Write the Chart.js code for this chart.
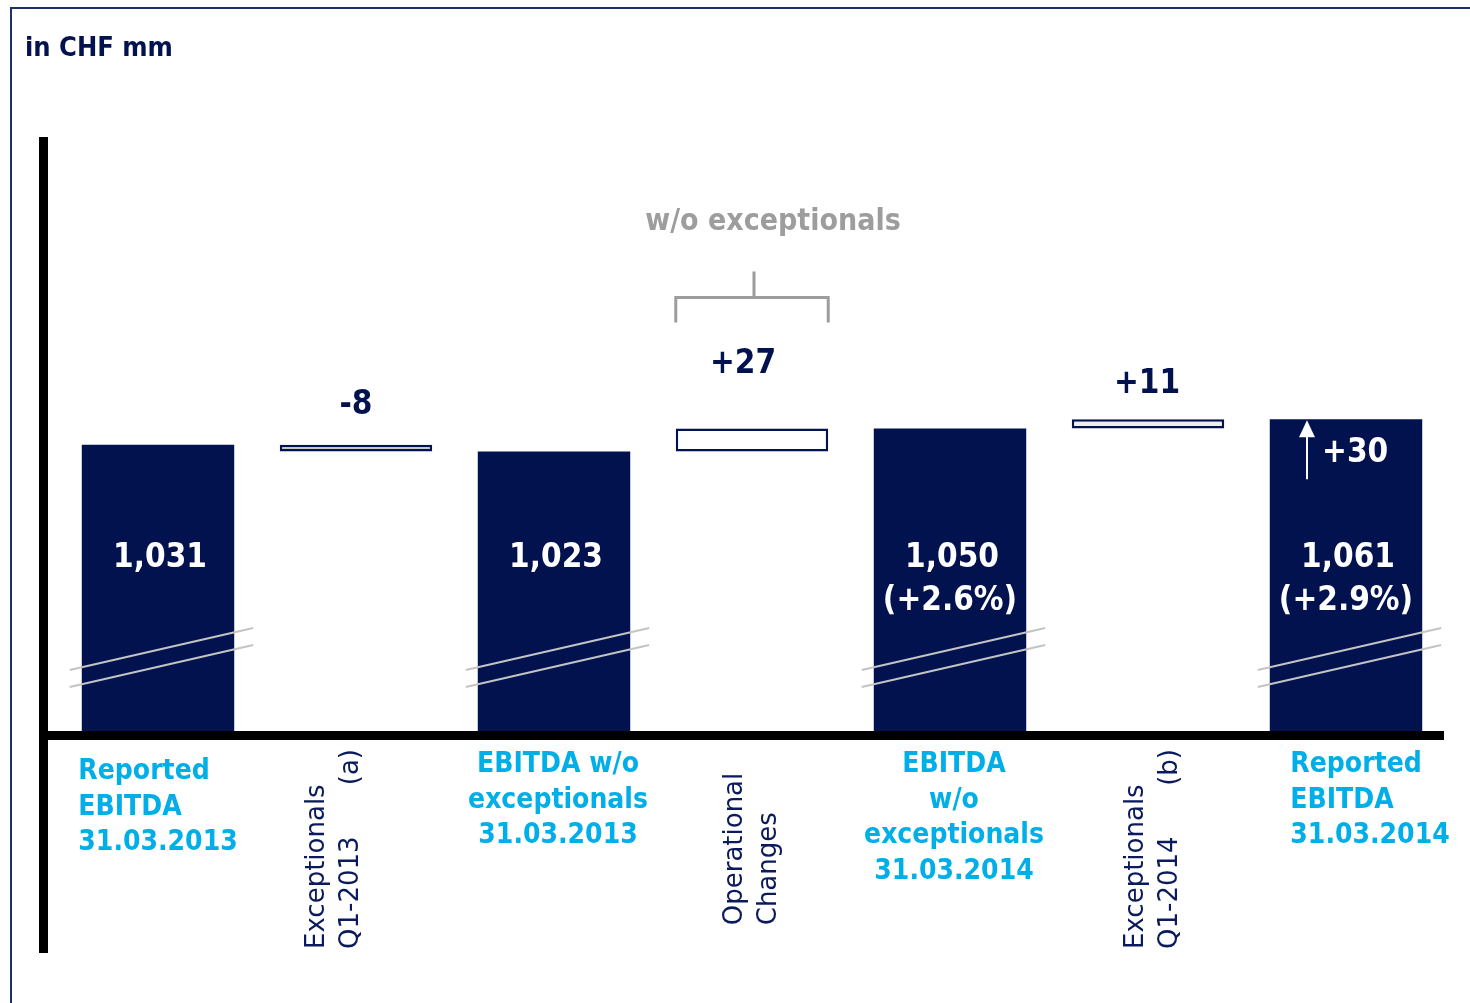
<!DOCTYPE html>
<html>
<head>
<meta charset="utf-8">
<script src="https://cdn.jsdelivr.net/npm/chart.js@4"></script>
<style>
  html, body { margin: 0; padding: 0; background: #fff; }
  #wrap { position: relative; width: 1470px; height: 1003px; }
</style>
</head>
<body>
<div id="wrap"><canvas id="bridge"></canvas></div>
<script>
// EBITDA bridge, in CHF mm
const categories = [
  ['Reported', 'EBITDA', '31.03.2013'],
  ['Exceptionals', 'Q1-2013\t(a)'],
  ['EBITDA w/o', 'exceptionals', '31.03.2013'],
  ['Operational', 'Changes'],
  ['EBITDA', 'w/o', 'exceptionals', '31.03.2014'],
  ['Exceptionals', 'Q1-2014\t(b)'],
  ['Reported', 'EBITDA', '31.03.2014']
];
const isTotal = [true, false, true, false, true, false, true];
const totals = [1031, null, 1023, null, 1050, null, 1061];
const deltas = [null, -8, null, 27, null, 11, null];
const growthLabels = [null, null, null, null, '(+2.6%)', null, '(+2.9%)'];
const reportedGrowth = 30;

const NAVY = '#02124f';
const CYAN = '#00aee8';
const GREY = '#9d9d9d';
const BOLD = '"DejaVu Sans Condensed", "Open Sans", sans-serif';
const REG = '"DejaVu Sans", sans-serif';

// totals start from the axis floor, deltas float between running totals
let running = 0;
const barData = categories.map((c, i) => {
  if (isTotal[i]) { running = totals[i]; return totals[i]; }
  const from = running;
  running += deltas[i];
  return [from, running];
});

const fmt = v => v.toLocaleString('en-US');
const signed = v => (v > 0 ? '+' : '') + v;

const bridgeDecor = {
  id: 'bridgeDecor',
  afterDatasetsDraw(chart) {
    const ctx = chart.ctx;
    const area = chart.chartArea;
    const xs = chart.scales.x;
    const bars = chart.getDatasetMeta(0).data;
    ctx.save();

    // frame
    ctx.fillStyle = '#1f2f6e';
    ctx.fillRect(10, 7, 1460, 2);
    ctx.fillRect(10, 7, 2, 996);

    // title
    ctx.fillStyle = NAVY;
    ctx.font = 'bold 27px ' + BOLD;
    ctx.textBaseline = 'middle';
    ctx.textAlign = 'left';
    ctx.fillText('in CHF mm', 25, 49);

    bars.forEach((bar, i) => {
      const half = bar.width / 2;
      if (isTotal[i]) {
        // break marks across the bar
        ctx.strokeStyle = '#c4c4c4';
        ctx.lineWidth = 2;
        [0, 17].forEach(off => {
          ctx.beginPath();
          ctx.moveTo(bar.x - half - 12, area.bottom - 62 + off);
          ctx.lineTo(bar.x + half + 19, area.bottom - 104 + off);
          ctx.stroke();
        });
        ctx.fillStyle = '#fff';
        ctx.font = 'bold 33px ' + BOLD;
        ctx.textAlign = 'center';
        ctx.fillText(fmt(totals[i]), bar.x + 2, area.bottom - 174);
        if (growthLabels[i]) ctx.fillText(growthLabels[i], bar.x, area.bottom - 131);
      } else {
        const gap = { 1: 39, 3: 64, 5: 35 }[i];
        const shift = { 1: 0, 3: -9, 5: -1 }[i];
        ctx.fillStyle = NAVY;
        ctx.font = 'bold 33px ' + BOLD;
        ctx.textAlign = 'center';
        ctx.fillText(signed(deltas[i]), bar.x + shift, Math.min(bar.y, bar.base) - gap);
      }
    });

    // bracket over operational changes
    const op = bars[3];
    const top = Math.min(op.y, op.base);
    ctx.strokeStyle = GREY;
    ctx.lineWidth = 3;
    ctx.beginPath();
    ctx.moveTo(op.x - op.width / 2, top - 106);
    ctx.lineTo(op.x - op.width / 2, top - 131);
    ctx.lineTo(op.x + op.width / 2, top - 131);
    ctx.lineTo(op.x + op.width / 2, top - 106);
    ctx.moveTo(op.x + 2, top - 131);
    ctx.lineTo(op.x + 2, top - 157);
    ctx.stroke();
    ctx.fillStyle = GREY;
    ctx.font = 'bold 30px ' + BOLD;
    ctx.textAlign = 'center';
    ctx.fillText('w/o exceptionals', op.x + 21, top - 206);

    // growth arrow inside the last bar
    const last = bars[6];
    const ax = last.x - 39;
    ctx.strokeStyle = '#fff';
    ctx.fillStyle = '#fff';
    ctx.lineWidth = 2;
    ctx.beginPath();
    ctx.moveTo(ax, last.y + 60);
    ctx.lineTo(ax, last.y + 16);
    ctx.stroke();
    ctx.beginPath();
    ctx.moveTo(ax, last.y + 1);
    ctx.lineTo(ax - 8, last.y + 18);
    ctx.lineTo(ax + 8, last.y + 18);
    ctx.closePath();
    ctx.fill();
    ctx.font = 'bold 33px ' + BOLD;
    ctx.textAlign = 'left';
    ctx.fillText('+' + reportedGrowth, ax + 15, last.y + 34);

    // axes
    ctx.fillStyle = '#000';
    ctx.fillRect(39, 137, 9, 816);
    ctx.fillRect(47, area.bottom - 1, 1397, 9);

    // category labels
    categories.forEach((lines, i) => {
      const x = xs.getPixelForValue(i);
      if (isTotal[i]) {
        ctx.fillStyle = CYAN;
        ctx.font = 'bold 28px ' + BOLD;
        ctx.textBaseline = 'middle';
        const first = i === 0 ? 40 : 33;
        if (lines[0] === 'Reported') {
          const w = Math.max(...lines.map(l => ctx.measureText(l).width));
          const left = x - w / 2 + (i === 6 ? 24 : 0);
          ctx.textAlign = 'left';
          lines.forEach((l, k) => ctx.fillText(l, left, area.bottom + first + k * 35.5));
        } else {
          ctx.textAlign = 'center';
          lines.forEach((l, k) => ctx.fillText(l, x + 4, area.bottom + first + k * 35.5));
        }
      } else {
        ctx.fillStyle = '#0a1a5c';
        ctx.font = '26px ' + REG;
        const tabbed = lines.some(l => l.includes('\t'));
        const len = tabbed ? 200 : Math.max(...lines.map(l => ctx.measureText(l).width));
        const dx = { 1: -22, 3: 0, 5: 5 }[i];
        ctx.save();
        ctx.translate(x + dx - 17 * (lines.length - 1), area.bottom + 117 + len / 2);
        ctx.rotate(-Math.PI / 2);
        ctx.textBaseline = 'middle';
        lines.forEach((l, k) => {
          const parts = l.split('\t');
          ctx.textAlign = 'left';
          ctx.fillText(parts[0], 0, k * 34);
          if (parts[1]) {
            ctx.textAlign = 'right';
            ctx.fillText(parts[1], len, k * 34);
          }
        });
        ctx.restore();
      }
    });

    ctx.restore();
  }
};

new Chart(document.getElementById('bridge'), {
  type: 'bar',
  data: {
    labels: categories.map(c => c.join(' ')),
    datasets: [{
      data: barData,
      backgroundColor: isTotal.map((t, i) => t ? NAVY : ({ 1: '#c8c8c8', 3: '#ffffff', 5: '#eeeeee' })[i]),
      borderColor: NAVY,
      borderWidth: isTotal.map(t => t ? 0 : 2.5),
      borderSkipped: false,
      barPercentage: 0.77,
      categoryPercentage: 1
    }]
  },
  options: {
    responsive: true,
    maintainAspectRatio: false,
    animation: false,
    layout: { padding: { left: 59, top: 137, right: 25, bottom: 271 } },
    plugins: { legend: { display: false }, tooltip: { enabled: false } },
    scales: {
      x: { display: false },
      y: { display: false, min: 693, max: 1393 }
    }
  },
  plugins: [bridgeDecor]
});
</script>
</body>
</html>
